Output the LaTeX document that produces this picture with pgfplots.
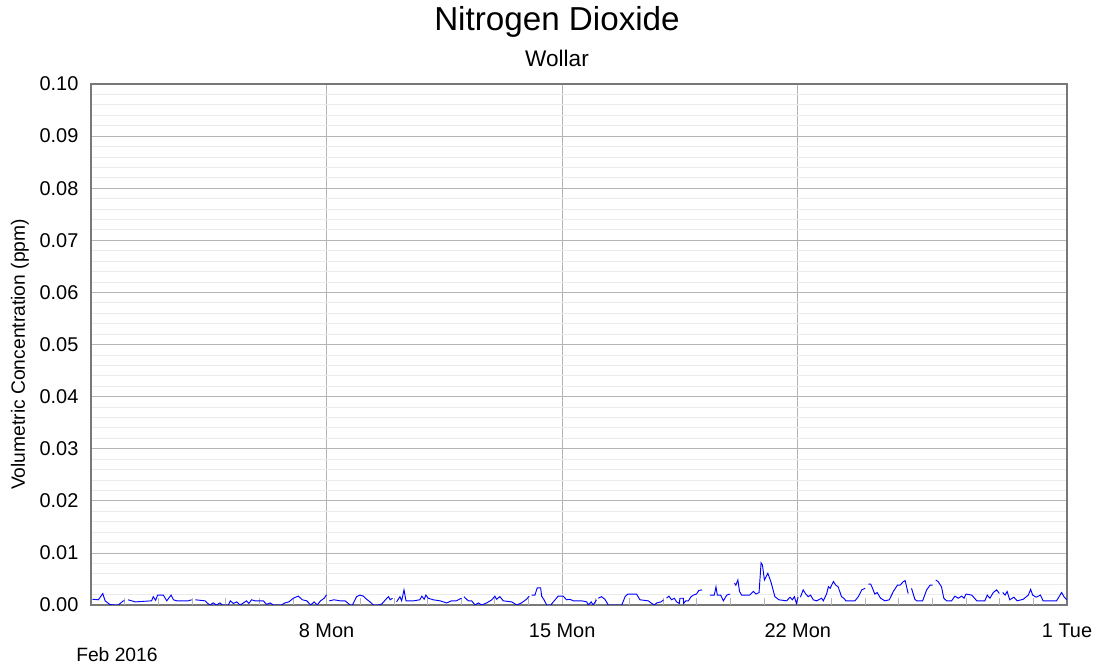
\documentclass[border=0pt]{standalone}
\usepackage{pgfplots}
\pgfplotsset{compat=1.18}
\usepackage{fontspec}
\setmainfont{Liberation Sans}
\definecolor{gridmajor}{RGB}{180,180,180}
\definecolor{gridminor}{RGB}{235,235,235}
\definecolor{framec}{RGB}{120,120,120}
\begin{document}
\begin{tikzpicture}
\useasboundingbox (-68.25bp,-47.25bp) rectangle (756bp,453.75bp);
\begin{axis}[
  at={(0,0)}, anchor=south west,
  scale only axis, width=732bp, height=390.75bp,
  xmin=0, xmax=29, ymin=0, ymax=0.1,
  axis line style={framec, line width=0.8pt},
  font=\fontsize{15}{18}\selectfont,
  /pgf/number format/assume math mode=true,
  ytick={0,0.01,...,0.1},
  minor ytick={0.002,0.004,...,0.1},
  yticklabel style={/pgf/number format/fixed,/pgf/number format/fixed zerofill,/pgf/number format/precision=2, xshift=-6pt},
  scaled y ticks=false,
  xtick={0,7,14,21,29},
  xticklabels={,8 Mon,15 Mon,22 Mon,1 Tue},
  xticklabel style={yshift=-10.5bp},
  ymajorgrids, yminorgrids, xmajorgrids,
  major grid style={gridmajor, line width=0.6pt},
  minor grid style={gridminor, line width=0.6pt},
  tick style={draw=none},
  extra x ticks={1,2,3,4,5,6,8,9,10,11,12,13,15,16,17,18,19,20,22,23,24,25,26,27,28},
  extra x tick labels={},
  extra x tick style={grid=none, tick style={draw=gridmajor, line width=0.6pt}, major tick length=5bp, tick pos=bottom, tick align=inside},
  unbounded coords=jump,
  clip=true,
]
\addplot[blue, line width=0.7pt] coordinates {
(0.04,0.0011)(0.22,0.0010)(0.35,0.0022)(0.42,0.0008)(0.56,0.0001)(0.71,0)(0.81,0)(0.96,0.0008)(1.0,0.0008)(1.05,nan)
(1.10,0.001)(1.21,0.0008)(1.31,0.0006)(1.80,0.0008)(1.85,0.0016)(1.92,0.0009)(1.98,0.0019)(2.15,0.0019)(2.25,0.0008)(2.38,0.0019)(2.45,0.001)(2.55,0.0008)(2.89,0.0008)(2.99,0.001)(3.05,nan)
(3.10,0.001)(3.39,0.0008)(3.47,0.0003)(3.54,0)(3.63,0.0004)(3.73,0)(3.83,0.0004)(3.90,0)(4.08,0)(4.14,0.0008)(4.23,0.0003)(4.33,0.0006)(4.43,0)(4.53,0.0004)(4.62,0.0008)(4.69,0.0003)(4.77,0.001)(4.87,0.0008)(4.99,0.0008)
(5.12,0.0008)(5.22,0.0001)(5.32,0.0004)(5.42,0)(5.66,0)(5.76,0.0004)(5.88,0.0006)(6.01,0.0013)(6.16,0.0017)(6.28,0.001)(6.41,0.0008)(6.53,0)(6.63,0.0006)(6.72,0)(6.82,0.0008)(6.93,0.0013)(7.00,0.0020)(7.04,nan)
(7.08,0.0008)(7.22,0.001)(7.40,0.0008)(7.55,0.0008)(7.70,0)(7.77,0)(7.89,0.0016)(7.99,0.0019)(8.09,0.0017)(8.19,0.0011)(8.29,0.0006)(8.39,0)(8.54,0)(8.64,0.0002)(8.79,0.0013)(8.84,0.0016)(8.89,0.001)(8.96,0.0013)(9.02,nan)
(9.08,0.0006)(9.18,0.0016)(9.23,0.0008)(9.30,0.0029)(9.36,0.0008)(9.58,0.0008)(9.77,0.001)(9.83,0.0017)(9.90,0.0011)(9.95,0.0019)(10.02,0.0013)(10.17,0.001)(10.37,0.0008)(10.57,0.0004)(10.71,0.0008)(10.86,0.0008)(10.94,0.0011)(11.01,0.0013)(11.04,nan)
(11.08,0.0016)(11.21,0.0008)(11.31,0.0008)(11.41,0)(11.51,0.0004)(11.61,0)(11.76,0.0004)(11.91,0.001)(12.00,0.0017)(12.05,0.0011)(12.15,0.0016)(12.25,0.0008)(12.50,0.0006)(12.65,0)(12.79,0.0004)(12.94,0.0011)(13.02,0.0017)(13.05,nan)
(13.09,0.0019)(13.19,0.0019)(13.26,0.0033)(13.36,0.0033)(13.39,0.0017)(13.46,0.001)(13.54,0)(13.66,0)(13.79,0.001)(13.88,0.0017)(14.03,0.0017)(14.13,0.001)(14.23,0.0011)(14.33,0.0008)(14.58,0.0008)(14.73,0.0006)(14.78,0)(14.86,0.0006)(14.92,0)(15.02,0.001)(15.04,nan)
(15.07,0.0013)(15.17,0.0016)(15.27,0.0011)(15.37,0)(15.77,0)(15.87,0.0016)(15.95,0.0021)(16.21,0.0021)(16.31,0.001)(16.56,0.0008)(16.66,0.0003)(16.74,0)(16.81,0.0004)(16.94,0.0006)(17.01,0.001)(17.05,nan)
(17.10,0.0013)(17.17,0.0017)(17.25,0.001)(17.33,0.0013)(17.40,0.0006)(17.48,0.0003)(17.50,0.0013)(17.60,0.0013)(17.61,0.0003)(17.67,0.0008)(17.75,0.0008)(17.83,0.0016)(17.90,0.0019)(17.99,0.0021)(18.06,0.0028)(18.16,0.0029)(18.25,nan)
(18.39,0.0019)(18.52,0.0019)(18.57,0.0035)(18.61,0.0019)(18.71,0.0019)(18.79,0.0008)(18.89,0.0019)(18.99,0.0021)(19.05,nan)
(19.12,0.0042)(19.16,0.0038)(19.22,0.0048)(19.27,0.0026)(19.33,0.0019)(19.57,0.0019)(19.68,0.0026)(19.76,0.0021)(19.85,0.0024)(19.91,0.0081)(19.95,0.0077)(20.01,0.0048)(20.11,0.0061)(20.20,0.0045)(20.32,0.0016)(20.44,0.001)(20.67,0.0008)(20.77,0.0015)(20.84,0.001)(20.90,0.0016)(20.96,0.0003)(21.01,0.0015)(21.04,nan)
(21.08,0.0015)(21.16,0.0029)(21.24,0.0021)(21.31,0.0016)(21.38,0.0019)(21.46,0.001)(21.56,0.0008)(21.71,0.0013)(21.76,0.0008)(21.86,0.0022)(21.91,0.0035)(21.96,0.0032)(22.06,0.0045)(22.13,0.0038)(22.20,0.0035)(22.30,0.0016)(22.37,0.0013)(22.43,0.0008)(22.70,0.0008)(22.80,0.0016)(22.90,0.0029)(23.00,0.0032)(23.05,nan)
(23.10,0.004)(23.17,0.004)(23.29,0.0021)(23.36,0.0024)(23.46,0.0013)(23.59,0.0008)(23.72,0.001)(23.84,0.0026)(23.96,0.0038)(24.04,0.0038)(24.14,0.0045)(24.19,0.0047)(24.28,0.0022)(24.33,nan)
(24.38,0.0032)(24.48,0.0011)(24.53,0.0008)(24.71,0.0008)(24.83,0.0029)(24.93,0.0038)(25.01,0.0038)(25.05,nan)
(25.10,0.0048)(25.17,0.0045)(25.27,0.0035)(25.34,0.0013)(25.42,0.0008)(25.57,0.0008)(25.67,0.0017)(25.77,0.0013)(25.87,0.0017)(25.94,0.0013)(26.00,0.0021)(26.17,0.0019)(26.32,0.0008)(26.56,0.0008)(26.63,0.0019)(26.71,0.0013)(26.81,0.0024)(26.91,0.0029)(26.99,0.0022)(27.04,nan)
(27.09,0.0024)(27.16,0.0019)(27.22,0.0026)(27.30,0.001)(27.42,0.0015)(27.52,0.0008)(27.70,0.0011)(27.85,0.0019)(27.92,0.003)(27.98,0.0019)(28.08,0.0015)(28.15,0.0017)(28.21,0.0019)(28.29,0.0008)(28.69,0.0008)(28.84,0.0024)(28.91,0.0016)(28.99,0.001)
};
\end{axis}
\node[font=\fontsize{25}{30}\selectfont] at (349.5bp,437.25bp) {Nitrogen Dioxide};
\node[font=\fontsize{17}{20}\selectfont] at (349.5bp,410.25bp) {Wollar};
\node[font=\fontsize{14.5}{17}\selectfont, rotate=90] at (-53.25bp,187.9bp) {Volumetric Concentration (ppm)};
\node[font=\fontsize{14.5}{17}\selectfont, anchor=west, inner sep=0pt] at (-11.25bp,-37.5bp) {Feb 2016};
\end{tikzpicture}
\end{document}
